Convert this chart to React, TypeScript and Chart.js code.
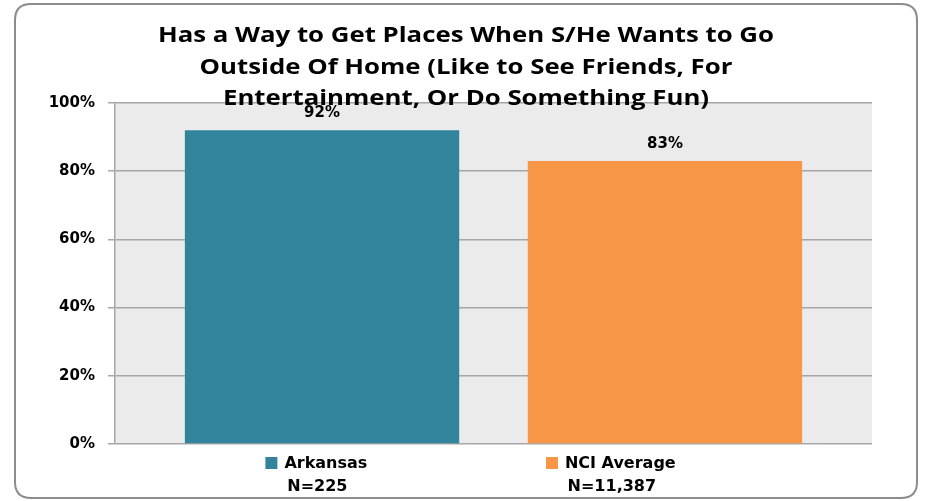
import React, { useEffect, useRef } from "react";
import { Chart, registerables } from "chart.js";

Chart.register(...registerables);

const titleLines = [
  "Has a Way to Get Places When S/He Wants to Go",
  "Outside Of Home (Like to See Friends, For",
  "Entertainment, Or Do Something Fun)",
];
const seriesNames = ["Arkansas", "NCI Average"];
const sampleSizes = ["N=225", "N=11,387"];
const seriesValues = [92, 83];
const seriesColors = ["#31849b", "#f79646"];
const yTicks = [0, 20, 40, 60, 80, 100];

const W = 926;
const H = 501;

const framePlugin = {
  id: "frame",
  beforeDraw(chart: any) {
    const { ctx, chartArea } = chart;
    ctx.save();
    ctx.fillStyle = "#ffffff";
    ctx.fillRect(0, 0, W, H);
    const x = 15, y = 4, w = 902, h = 494, r = 16;
    ctx.beginPath();
    ctx.moveTo(x + r, y);
    ctx.lineTo(x + w - r, y);
    ctx.quadraticCurveTo(x + w, y, x + w, y + r);
    ctx.lineTo(x + w, y + h - r);
    ctx.quadraticCurveTo(x + w, y + h, x + w - r, y + h);
    ctx.lineTo(x + r, y + h);
    ctx.quadraticCurveTo(x, y + h, x, y + h - r);
    ctx.lineTo(x, y + r);
    ctx.quadraticCurveTo(x, y, x + r, y);
    ctx.closePath();
    ctx.strokeStyle = "#8c8c8c";
    ctx.lineWidth = 2;
    ctx.stroke();
    ctx.fillStyle = "#ebebeb";
    ctx.fillRect(chartArea.left, chartArea.top, chartArea.right - chartArea.left, chartArea.bottom - chartArea.top);
    ctx.restore();
  },
  afterDraw(chart: any) {
    const { ctx, chartArea } = chart;
    ctx.save();
    ctx.fillStyle = "#000000";
    ctx.font = "bold 22px 'Open Sans'";
    ctx.textAlign = "center";
    ctx.textBaseline = "alphabetic";
    const cx = 466;
    const w0 = ctx.measureText(titleLines[0]).width;
    const sx = 616 / w0;
    titleLines.forEach((line, i) => {
      ctx.save();
      ctx.translate(cx, 42 + i * 31.5);
      ctx.scale(sx, 1);
      ctx.fillText(line, 0, 0);
      ctx.restore();
    });
    const fracs = [0.266, 0.655];
    const cw = chartArea.right - chartArea.left;
    ctx.font = "bold 16px 'DejaVu Sans'";
    seriesNames.forEach((name, i) => {
      const center = chartArea.left + fracs[i] * cw;
      const tw = ctx.measureText(name).width;
      const sq = 12;
      const gap = 7;
      const total = sq + gap + tw;
      const startX = center - total / 2;
      const lineY = chartArea.bottom + 20;
      ctx.fillStyle = seriesColors[i];
      ctx.fillRect(startX, lineY - sq / 2 - 1, sq, sq);
      ctx.fillStyle = "#000000";
      ctx.textAlign = "left";
      ctx.textBaseline = "middle";
      ctx.fillText(name, startX + sq + gap, lineY);
      ctx.textAlign = "center";
      ctx.fillText(sampleSizes[i], center + 1, lineY + 23);
    });
    ctx.restore();
  },
  afterDatasetsDraw(chart: any) {
    const { ctx } = chart;
    ctx.save();
    ctx.font = "bold 15px 'DejaVu Sans'";
    ctx.fillStyle = "#000000";
    ctx.textAlign = "center";
    ctx.textBaseline = "middle";
    chart.data.datasets.forEach((ds: any, i: number) => {
      const meta = chart.getDatasetMeta(i);
      meta.data.forEach((bar: any, j: number) => {
        ctx.fillText(ds.data[j] + "%", bar.x, bar.y - 17);
      });
    });
    ctx.restore();
  },
};

export default function App() {
  const ref = useRef<HTMLCanvasElement | null>(null);
  useEffect(() => {
    if (!ref.current) return;
    const chart = new Chart(ref.current, {
      type: "bar",
      data: {
        labels: [""],
        datasets: seriesNames.map((name, i) => ({
          label: name,
          data: [seriesValues[i]],
          backgroundColor: seriesColors[i],
          borderWidth: 0,
          categoryPercentage: 0.906,
          barPercentage: 0.8,
        })),
      },
      options: {
        responsive: false,
        animation: false,
        devicePixelRatio: 1,
        layout: { padding: { left: 0, top: 103, right: 54, bottom: 57 } },
        plugins: {
          legend: { display: false },
          title: { display: false },
          tooltip: { enabled: false },
        },
        scales: {
          x: { display: false },
          y: {
            min: 0,
            max: 100,
            afterFit(scale: any) {
              scale.width = 115;
            },
            afterBuildTicks(scale: any) {
              scale.ticks = yTicks.map((v) => ({ value: v }));
            },
            ticks: {
              callback: (v: any) => v + "%",
              font: { family: "'DejaVu Sans'", size: 15, weight: "bold" },
              color: "#000000",
              padding: 13,
            },
            grid: {
              color: "#a6a6a6",
              lineWidth: 1.5,
              tickLength: 7,
              drawTicks: true,
            },
            border: { display: true, color: "#a6a6a6", width: 1.5 },
          },
        },
      },
      plugins: [framePlugin],
    });
    return () => chart.destroy();
  }, []);
  return (
    <div style={{ position: "fixed", left: 0, top: 0, width: W, height: H, background: "#fff" }}>
      <canvas ref={ref} width={W} height={H} style={{ display: "block", width: W, height: H }} />
    </div>
  );
}
